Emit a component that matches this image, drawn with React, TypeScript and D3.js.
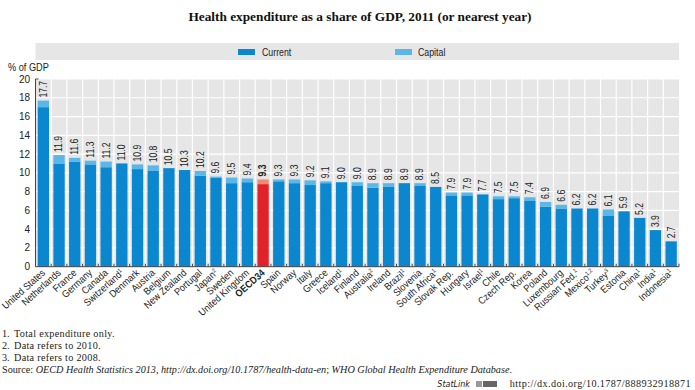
import * as d3 from "d3";

const countries = [
  "United States", "Netherlands", "France", "Germany", "Canada", "Switzerland", "Denmark",
  "Austria", "Belgium", "New Zealand", "Portugal", "Japan", "Sweden", "United Kingdom",
  "OECD34", "Spain", "Norway", "Italy", "Greece", "Iceland", "Finland", "Australia",
  "Ireland", "Brazil", "Slovenia", "South Africa", "Slovak Rep.", "Hungary", "Israel",
  "Chile", "Czech Rep.", "Korea", "Poland", "Luxembourg", "Russian Fed.", "Mexico",
  "Turkey", "Estonia", "China", "India", "Indonesia",
];
const notes = [
  "", "", "", "", "", "1", "", "", "", "", "", "2", "", "", "", "", "", "", "", "1", "",
  "2", "", "1", "", "1", "", "", "1", "", "", "", "", "", "1", "1,2", "3", "", "1", "1", "1",
];
const totals = [
  17.7, 11.9, 11.6, 11.3, 11.2, 11.0, 10.9, 10.8, 10.5, 10.3, 10.2, 9.6, 9.5, 9.4, 9.3, 9.3,
  9.3, 9.2, 9.1, 9.0, 9.0, 8.9, 8.9, 8.9, 8.9, 8.5, 7.9, 7.9, 7.7, 7.5, 7.5, 7.4, 6.9, 6.6,
  6.2, 6.2, 6.1, 5.9, 5.2, 3.9, 2.7,
];
const current = [
  17.0, 11.0, 11.2, 10.9, 10.6, 11.0, 10.4, 10.2, 10.5, 10.3, 9.7, 9.5, 8.9, 9.0, 8.8, 9.1,
  8.9, 8.7, 8.9, 9.0, 8.6, 8.4, 8.5, 8.9, 8.6, 8.5, 7.6, 7.6, 7.7, 7.2, 7.3, 7.0, 6.4, 6.2,
  6.2, 6.2, 5.4, 5.9, 5.2, 3.9, 2.7,
];
const capital = [
  0.7, 0.9, 0.4, 0.4, 0.6, 0, 0.5, 0.6, 0, 0, 0.5, 0.1, 0.6, 0.4, 0.5, 0.2, 0.4, 0.5, 0.2,
  0, 0.4, 0.5, 0.4, 0, 0.3, 0, 0.3, 0.3, 0, 0.3, 0.2, 0.4, 0.5, 0.4, 0, 0, 0.7, 0, 0, 0, 0,
];
const yTicks = [0, 2, 4, 6, 8, 10, 12, 14, 16, 18, 20];
const footnotes = ["Total expenditure only.", "Data refers to 2010.", "Data refers to 2008."];

const W = 695;
const H = 390;
const left = 35.5;
const right = 679;
const top = 79;
const bottom = 266.7;

const sans = "'Liberation Sans', Arial, sans-serif";
const serif = "'Liberation Serif', 'DejaVu Serif', serif";

const blue = "#0a87ce";
const lightBlue = "#5bb7e8";
const red = "#e2222a";
const pink = "#f58a74";

export default function App() {
  const x = d3.scaleBand<string>().domain(countries).range([left, right]).paddingInner(0.28).paddingOuter(0.14);
  const y = d3.scaleLinear().domain([0, 20]).range([bottom, top]);
  const bw = x.bandwidth();
  const gap = x.step() - bw;

  return (
    <svg width={W} height={H} style={{ position: "absolute", left: 0, top: 0 }}>
      <rect width={W} height={H} fill="#fff" />
      <text x={360} y={21} textAnchor="middle" fontFamily={serif} fontWeight="bold" fontSize={13.3} fill="#111">
        Health expenditure as a share of GDP, 2011 (or nearest year)
      </text>

      {/* legend */}
      <rect x={left} y={43} width={right - left} height={17} fill="#e6e6e7" />
      <rect x={238} y={49} width={17} height={6} fill={blue} />
      <text transform="translate(262,55.5) scale(0.88,1)" fontFamily={sans} fontSize={10} fill="#222">Current</text>
      <rect x={395} y={49} width={17} height={6} fill={lightBlue} />
      <text transform="translate(418,55.5) scale(0.88,1)" fontFamily={sans} fontSize={10} fill="#222">Capital</text>

      {/* plot background and grid */}
      <rect x={left} y={top} width={right - left} height={bottom - top} fill="#e6e6e7" />
      {yTicks.slice(1).map((t) => (
        <line key={t} x1={left} x2={right} y1={y(t)} y2={y(t)} stroke="#fff" strokeWidth={1.2} />
      ))}
      {countries.slice(1).map((c) => (
        <line key={c} x1={x(c)! - gap / 2} x2={x(c)! - gap / 2} y1={top} y2={bottom} stroke="#fff" strokeWidth={1.2} />
      ))}

      {/* bars */}
      {countries.map((c, i) => {
        const isOecd = c === "OECD34";
        return (
          <g key={c}>
            <rect x={x(c)} y={y(current[i])} width={bw} height={bottom - y(current[i])} fill={isOecd ? red : blue} />
            {capital[i] > 0 && (
              <rect x={x(c)} y={y(current[i] + capital[i])} width={bw} height={y(current[i]) - y(current[i] + capital[i])} fill={isOecd ? pink : lightBlue} />
            )}
            <text
              transform={`translate(${x(c)! + bw / 2 + 3.4},${y(totals[i]) - 3}) rotate(-90) scale(0.86,1)`}
              fontFamily={sans}
              fontSize={10}
              fontWeight={isOecd ? "bold" : "normal"}
              fill="#222"
            >
              {totals[i].toFixed(1)}
            </text>
          </g>
        );
      })}

      {/* axes */}
      <line x1={left} x2={left} y1={top} y2={bottom} stroke="#444" strokeWidth={1} />
      <line x1={left} x2={left + 3} y1={top} y2={top} stroke="#444" strokeWidth={1} />
      <line x1={left} x2={right} y1={bottom} y2={bottom} stroke="#444" strokeWidth={1} />
      {countries.slice(1).map((c) => (
        <line key={c} x1={x(c)! - gap / 2} x2={x(c)! - gap / 2} y1={bottom} y2={bottom - 3} stroke="#444" strokeWidth={1} />
      ))}
      <line x1={right} x2={right} y1={bottom} y2={bottom - 3} stroke="#444" strokeWidth={1} />
      {yTicks.map((t) => (
        <text key={t} x={30} y={y(t) + 3.5} textAnchor="end" fontFamily={sans} fontSize={10} fill="#222">
          {t}
        </text>
      ))}
      <text transform="translate(8,71) scale(0.92,1)" fontFamily={sans} fontSize={10} fill="#222">% of GDP</text>

      {/* category labels */}
      {countries.map((c, i) => (
        <text
          key={c}
          transform={`translate(${x(c)! + bw / 2 + 2.5},${bottom + 7}) rotate(-42) scale(0.9,1)`}
          textAnchor="end"
          fontFamily={sans}
          fontSize={10}
          fontWeight={c === "OECD34" ? "bold" : "normal"}
          fill="#222"
        >
          {c}
          {notes[i] && (
            <tspan fontSize={6} dy={-3.5}>{notes[i]}</tspan>
          )}
        </text>
      ))}

      {/* footnotes */}
      {footnotes.map((f, i) => (
        <g key={f}>
          <text x={2} y={337 + i * 12} fontFamily={serif} fontSize={10.2} fill="#222">{`${i + 1}.`}</text>
          <text x={14} y={337 + i * 12} fontFamily={serif} fontSize={10.2} letterSpacing={0.3} fill="#222">{f}</text>
        </g>
      ))}
      <text x={2} y={373} fontFamily={serif} fontSize={10.2} fill="#222">
        {"Source:  "}
        <tspan fontStyle="italic">OECD Health Statistics 2013, http://dx.doi.org/10.1787/health-data-en</tspan>
        {"; "}
        <tspan fontStyle="italic">WHO Global Health Expenditure Database</tspan>.
      </text>
      <text x={470} y={387} textAnchor="end" fontFamily="'DejaVu Sans', sans-serif" fontStyle="italic" fontSize={8} fill="#222">
        StatLink
      </text>
      <rect x={476} y={381} width={6} height={6} fill="#999" />
      <rect x={483} y={381} width={14} height={6} fill="#666" />
      <text x={691} y={387} textAnchor="end" fontFamily={serif} fontSize={10.2} letterSpacing={0.4} fill="#222">
        http://dx.doi.org/10.1787/888932918871
      </text>
    </svg>
  );
}
